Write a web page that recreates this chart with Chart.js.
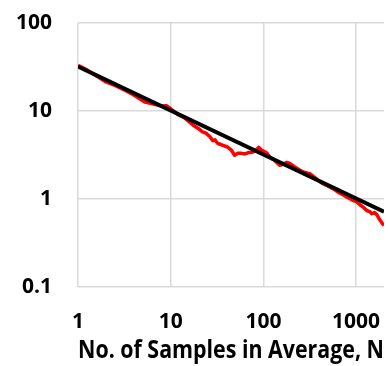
<!DOCTYPE html>
<html>
<head>
<meta charset="utf-8">
<script src="https://cdn.jsdelivr.net/npm/chart.js@4"></script>
<style>
  html, body { margin: 0; padding: 0; background: #fff; }
  #wrap { width: 388px; height: 366px; }
</style>
</head>
<body>
<div id="wrap"><canvas id="chart" width="388" height="366"></canvas></div>
<script>
// measured curve (red)
const sampleN = [1, 1.2, 1.5, 2, 2.5, 3.2, 4, 5.3, 6.5, 8, 9, 10, 12, 14, 17.5, 20, 22, 24, 26.5, 28.5,
    30, 32, 36, 41, 45, 49, 53, 58, 63, 68, 75, 81, 89, 95, 100, 109, 117, 130, 150, 165,
    180, 194, 220, 248, 280, 317, 360, 400, 440, 500, 563, 650, 720, 800, 900, 1020, 1100, 1190, 1300, 1400,
    1480, 1580, 1680, 1800, 1940, 2000];
const sampleVal = [33, 30, 26, 21.4, 19.5, 17.2, 15.2, 12.6, 12.0, 11.4, 11.5, 10.6, 9.1, 8.4, 6.9, 6.3, 5.8, 5.6, 5.1, 4.6,
    4.7, 4.3, 4.1, 3.9, 3.6, 3.14, 3.3, 3.3, 3.25, 3.35, 3.4, 3.5, 3.86, 3.6, 3.5, 3.33, 3.0, 2.8, 2.42, 2.5,
    2.6, 2.52, 2.3, 2.12, 2.0, 1.94, 1.75, 1.6, 1.49, 1.4, 1.31, 1.18, 1.12, 1.05, 0.98, 0.925, 0.86, 0.81, 0.74, 0.72,
    0.68, 0.7, 0.66, 0.58, 0.52, 0.5];

// fitted line (black), ~32/sqrt(N)
const fitN = [1, 2000];
const fitVal = [32, 0.716];

const xTicks = [1, 10, 100, 1000];
const yTicks = [0.1, 1, 10, 100];
const xTitle = 'No. of Samples in Average, N';

const toPts = (xs, ys) => xs.map((x, i) => ({ x: x, y: ys[i] }));
const FONT = "'Open Sans', 'DejaVu Sans', sans-serif";

new Chart(document.getElementById('chart').getContext('2d'), {
    type: 'scatter',
    data: {
        datasets: [{
            data: toPts(fitN, fitVal),
            showLine: true,
            borderColor: '#000000',
            borderWidth: 4,
            pointRadius: 0,
            order: 0
        }, {
            data: toPts(sampleN, sampleVal),
            showLine: true,
            borderColor: '#ff0000',
            borderWidth: 3.5,
            pointRadius: 0,
            borderJoinStyle: 'round',
            order: 1
        }]
    },
    options: {
        responsive: false,
        animation: false,
        layout: { padding: { top: 23, right: 4, left: 0, bottom: 0 } },
        plugins: {
            legend: { display: false },
            tooltip: { enabled: false }
        },
        scales: {
            x: {
                type: 'logarithmic',
                min: 1,
                max: 2000,
                afterBuildTicks: axis => { axis.ticks = xTicks.map(v => ({ value: v })); },
                afterFit: axis => {
                    axis.height = 79;
                    axis.paddingLeft = 0;
                    axis.paddingRight = 0;
                },
                grid: { color: '#d9d9d9', lineWidth: 1.5, drawTicks: false },
                border: { display: false },
                ticks: {
                    padding: 22,
                    maxRotation: 0,
                    color: '#000',
                    font: { family: FONT, size: 21, weight: 'bold' },
                    callback: v => String(v)
                },
                title: {
                    display: true,
                    text: xTitle,
                    color: '#000',
                    padding: { top: 0, bottom: 0 },
                    font: { family: FONT, size: 25, weight: 'bold' }
                }
            },
            y: {
                type: 'logarithmic',
                min: 0.1,
                max: 100,
                afterBuildTicks: axis => { axis.ticks = yTicks.map(v => ({ value: v })); },
                afterFit: axis => {
                    axis.width = 78;
                    axis.paddingTop = 0;
                    axis.paddingBottom = 0;
                },
                grid: { color: '#d9d9d9', lineWidth: 1.5, drawTicks: false },
                border: { display: false },
                ticks: {
                    padding: 26,
                    color: '#000',
                    font: { family: FONT, size: 21, weight: 'bold' },
                    callback: v => String(v)
                }
            }
        }
    }
});
</script>
</body>
</html>
